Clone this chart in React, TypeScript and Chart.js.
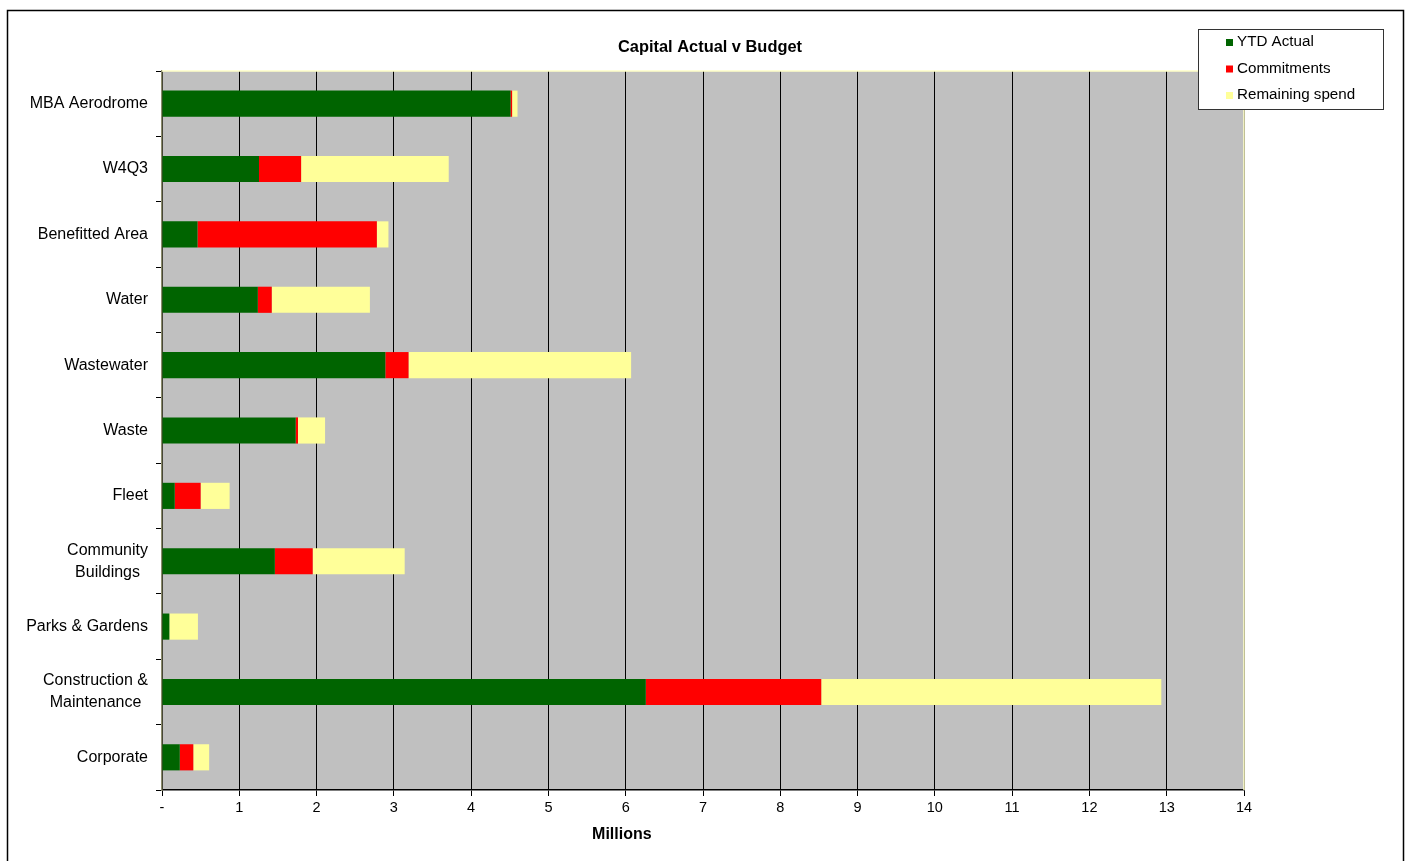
import React, { useEffect, useRef } from "react";
import { Chart, registerables } from "chart.js";

Chart.register(...registerables);

// Capital programme by activity, in millions
const categories = [
  "MBA Aerodrome",
  "W4Q3",
  "Benefitted Area",
  "Water",
  "Wastewater",
  "Waste",
  "Fleet",
  "Community\nBuildings",
  "Parks & Gardens",
  "Construction &\nMaintenance",
  "Corporate",
];

const ytdActual = [4.51, 1.255, 0.46, 1.24, 2.89, 1.73, 0.165, 1.46, 0.095, 6.26, 0.23];
const commitments = [0.02, 0.545, 2.32, 0.18, 0.3, 0.03, 0.335, 0.49, 0, 2.27, 0.175];
const remainingSpend = [0.07, 1.91, 0.15, 1.27, 2.88, 0.35, 0.375, 1.19, 0.37, 4.4, 0.205];

const xTicks = [0, 1, 2, 3, 4, 5, 6, 7, 8, 9, 10, 11, 12, 13, 14];

const seriesNames = ["YTD Actual", "Commitments", "Remaining spend"];
const seriesColors = ["#006400", "#FF0000", "#FFFF99"];

const FONT = "'Liberation Sans', Arial, sans-serif";

const decorPlugin = {
  id: "decor",
  beforeDraw(chart: any) {
    const { ctx, chartArea: a } = chart;
    ctx.save();
    ctx.fillStyle = "#ffffff";
    ctx.fillRect(0, 0, chart.width, chart.height);
    ctx.fillStyle = "#C0C0C0";
    ctx.fillRect(a.left, a.top, a.right - a.left, a.bottom - a.top);
    ctx.restore();
  },
  beforeDatasetsDraw(chart: any) {
    const { ctx, chartArea: a } = chart;
    ctx.save();
    ctx.strokeStyle = "#FFFFC8";
    ctx.lineWidth = 1.5;
    ctx.beginPath();
    ctx.moveTo(a.left, a.top);
    ctx.lineTo(a.right, a.top);
    ctx.lineTo(a.right, a.bottom);
    ctx.stroke();
    ctx.restore();
  },
  afterDraw(chart: any) {
    const { ctx, chartArea: a } = chart;
    const yScale = chart.scales.y;
    ctx.save();

    // outer frame
    ctx.strokeStyle = "#000";
    ctx.lineWidth = 1.5;
    ctx.beginPath();
    ctx.moveTo(7.5, chart.height + 5);
    ctx.lineTo(7.5, 10.5);
    ctx.lineTo(1403.5, 10.5);
    ctx.lineTo(1403.5, chart.height + 5);
    ctx.stroke();

    // title
    ctx.fillStyle = "#000";
    ctx.font = `bold 16.4px ${FONT}`;
    ctx.textAlign = "center";
    ctx.textBaseline = "middle";
    ctx.fillText("Capital Actual v Budget", (a.left + a.right) / 2 + 7, 47);

    // axis title
    ctx.font = `bold 16px ${FONT}`;
    ctx.fillText("Millions", a.left + (a.right - a.left) * 0.425, 835);

    // category labels: block right-aligned, lines centred within block
    ctx.font = `16px ${FONT}`;
    const lineH = 22;
    categories.forEach((label, i) => {
      const lines = label.split("\n");
      const w = Math.max(...lines.map((l) => ctx.measureText(l).width));
      const cx = a.left - 14 - w / 2;
      const cy = yScale.getPixelForTick(i);
      lines.forEach((l, j) => {
        const y = cy + (j - (lines.length - 1) / 2) * lineH;
        ctx.fillText(l, cx, y);
      });
    });

    // legend box
    const lx = 1198.5, ly = 29.5, lw = 185, lh = 80;
    ctx.fillStyle = "#fff";
    ctx.fillRect(lx, ly, lw, lh);
    ctx.strokeStyle = "#333";
    ctx.lineWidth = 1;
    ctx.strokeRect(lx, ly, lw, lh);
    ctx.font = `15.2px ${FONT}`;
    ctx.textAlign = "left";
    chart.data.datasets.forEach((ds: any, i: number) => {
      const y = 42 + i * 26.5;
      ctx.fillStyle = ds.backgroundColor;
      ctx.fillRect(1226, y - 3, 7, 7);
      ctx.fillStyle = "#000";
      ctx.fillText(ds.label, 1237, y);
    });
    ctx.restore();
  },
};

export default function App() {
  const canvasRef = useRef<HTMLCanvasElement>(null);

  useEffect(() => {
    if (!canvasRef.current) return;
    const datasets = [ytdActual, commitments, remainingSpend].map((data, i) => ({
      label: seriesNames[i],
      data,
      backgroundColor: seriesColors[i],
      borderWidth: 0,
      barPercentage: 0.4,
      categoryPercentage: 1,
    }));

    const chart = new Chart(canvasRef.current, {
      type: "bar",
      data: { labels: categories, datasets },
      plugins: [decorPlugin],
      options: {
        indexAxis: "y",
        animation: false,
        responsive: false,
        maintainAspectRatio: false,
        layout: { padding: { left: 0, top: 71, right: 165, bottom: 0 } },
        plugins: {
          legend: { display: false },
          title: { display: false },
          tooltip: { enabled: false },
        },
        scales: {
          x: {
            stacked: true,
            min: 0,
            max: 14,
            afterBuildTicks: (scale: any) => {
              scale.ticks = xTicks.map((v) => ({ value: v }));
            },
            afterFit: (scale: any) => {
              scale.height = 71;
            },
            ticks: {
              color: "#000",
              font: { family: FONT, size: 14.5 },
              padding: 3,
              maxRotation: 0,
              callback: (v: any) => (Number(v) === 0 ? "-" : String(v)),
            },
            grid: {
              color: "#000",
              tickColor: "#000",
              tickLength: 6,
              lineWidth: 1,
            },
            border: { color: "#000", width: 1.5 },
          },
          y: {
            stacked: true,
            afterFit: (scale: any) => {
              scale.width = 162;
            },
            ticks: { display: false },
            grid: {
              offset: true,
              drawOnChartArea: false,
              drawTicks: true,
              tickLength: 6,
              tickColor: "#000",
            },
            border: { color: "#8C8C6C", width: 1.5 },
          },
        },
      },
    });
    return () => chart.destroy();
  }, []);

  return (
    <canvas
      ref={canvasRef}
      width={1409}
      height={861}
      style={{ position: "fixed", left: 0, top: 0, width: 1409, height: 861, display: "block" }}
    />
  );
}
